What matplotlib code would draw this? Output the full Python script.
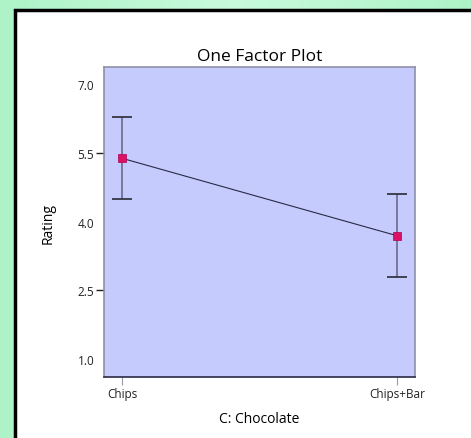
import numpy as np
import matplotlib
matplotlib.use("Agg")
import matplotlib.pyplot as plt
from matplotlib.patches import Rectangle

# data
levels = ["Chips", "Chips+Bar"]
means = [5.38, 3.69]
err_low = [4.49, 2.80]
err_high = [6.29, 4.59]
yticks = [1.0, 2.5, 4.0, 5.5, 7.0]
marked_ticks = [2.5, 5.5]

plt.rcParams['font.family'] = ['Open Sans', 'DejaVu Sans']

fig = plt.figure(figsize=(4.71, 4.39), dpi=100)
fig.patch.set_facecolor('#b8f5d2')

# light green gradient behind the white panel
grad = np.linspace(0, 1, 256).reshape(1, -1)
bg = fig.add_axes([0, 0, 1, 1], zorder=-2)
bg.imshow(grad, aspect='auto', extent=[0, 1, 0, 1],
          cmap=matplotlib.colors.LinearSegmentedColormap.from_list('g', ['#aef3c8', '#c8fadc', '#aef3c8']))
bg.set_axis_off()

# white panel with black border
fig.patches.append(Rectangle((15 / 471, -0.05), 1.0, 1 - 11 / 439 + 0.05,
                             transform=fig.transFigure, facecolor='white',
                             edgecolor='black', linewidth=2.5, zorder=-1))

ax = fig.add_axes([104 / 471, 1 - 378 / 439, 311 / 471, 310 / 439])
ax.set_facecolor('#c5cbfc')

x = np.arange(len(levels))
means = np.array(means)
yerr = [means - np.array(err_low), np.array(err_high) - means]

ax.plot(x, means, color='#2a2a45', lw=0.8, zorder=2)
eb = ax.errorbar(x, means, yerr=yerr, fmt='none', ecolor='#6a6a88', elinewidth=1.2,
                 capsize=7, capthick=1.2, zorder=3)
for cap in eb[1]:
    cap.set_markeredgecolor('#2a2a35')
ax.plot(x, means, 's', color='#dc1065', markersize=6, markeredgecolor='#b00050',
        markeredgewidth=0.5, zorder=4)

ax.set_xlim(-0.065, 1.065)
ax.set_ylim(0.61, 7.37)

ax.set_yticks(yticks)
ax.set_yticklabels([f"{v:.1f}" for v in yticks], fontsize=8.5, color='#222222')
ax.tick_params(axis='y', which='major', length=0, pad=7)
# only 2.5 and 5.5 carry a tick mark
ax.yaxis.remove_overlapping_locs = False
ax.set_yticks(marked_ticks, minor=True)
ax.tick_params(axis='y', which='minor', length=6, width=1, color='#222222')

ax.set_xticks(x)
ax.set_xticklabels(levels, fontsize=8.5, color='#222222')
ax.tick_params(axis='x', length=6, width=0.8, color='#9a9aa8', pad=1)

for side in ['left', 'top', 'right']:
    ax.spines[side].set_color('#9090a8')
    ax.spines[side].set_linewidth(1.2)
ax.spines['bottom'].set_color('#2a2a45')
ax.spines['bottom'].set_linewidth(1.2)

ax.set_title("One Factor Plot", fontsize=12.5, pad=5)
ax.set_ylabel("Rating", fontsize=10, labelpad=16)
ax.set_xlabel("C: Chocolate", fontsize=10, labelpad=8)

fig.savefig("out.png", dpi=100)
